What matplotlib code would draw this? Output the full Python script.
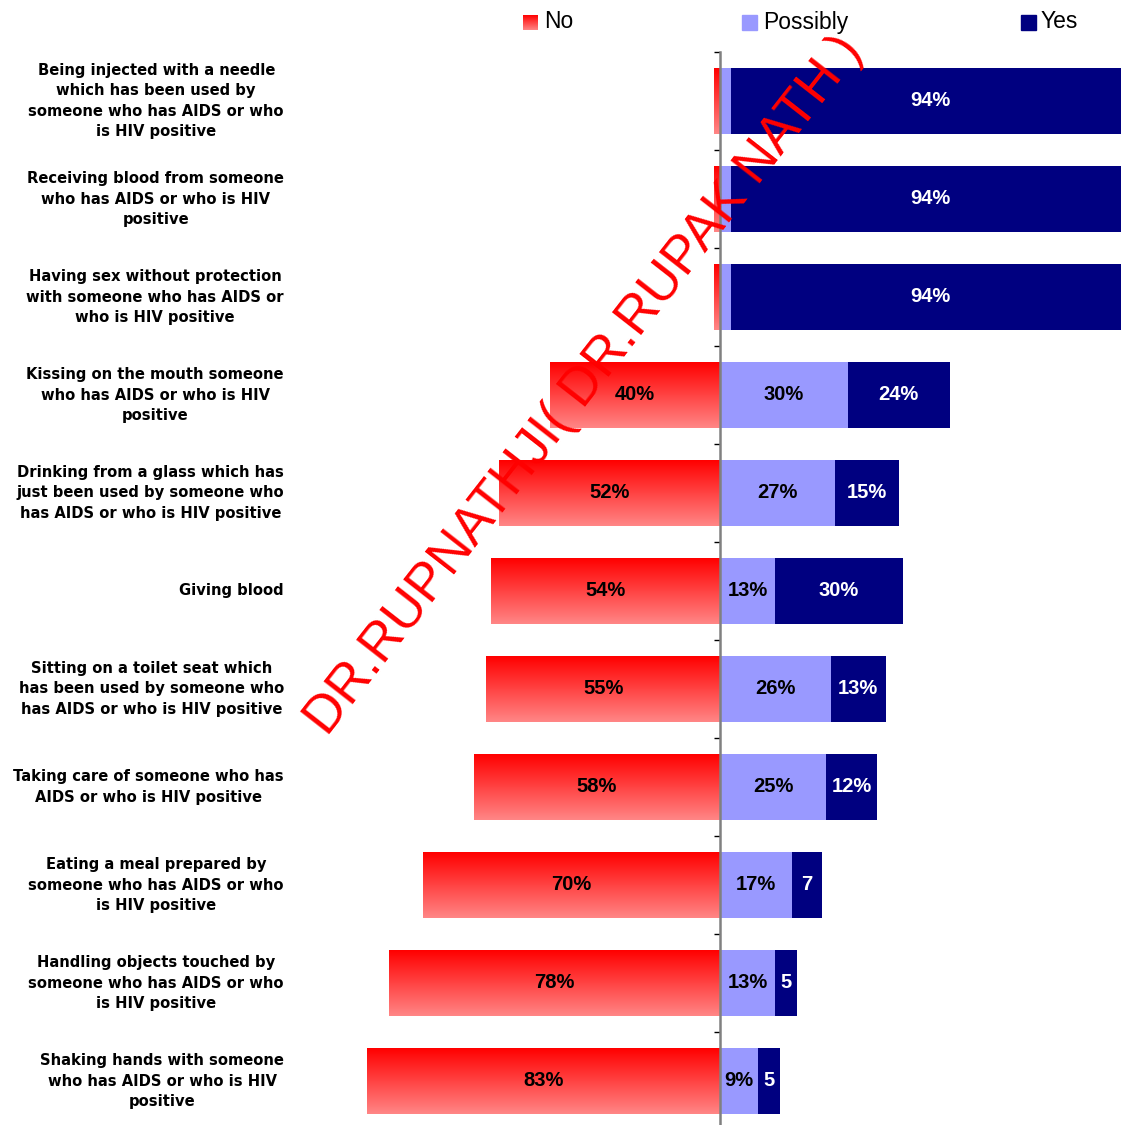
import numpy as np
import matplotlib
matplotlib.use("Agg")
import matplotlib.pyplot as plt
from matplotlib.colors import LinearSegmentedColormap
from matplotlib.transforms import blended_transform_factory

# survey answers, top row first
categories = [
    "Being injected with a needle\nwhich has been used by\nsomeone who has AIDS or who\nis HIV positive",
    "Receiving blood from someone\nwho has AIDS or who is HIV\npositive",
    "Having sex without protection\nwith someone who has AIDS or\nwho is HIV positive",
    "Kissing on the mouth someone\nwho has AIDS or who is HIV\npositive",
    "Drinking from a glass which has\njust been used by someone who\nhas AIDS or who is HIV positive",
    "Giving blood",
    "Sitting on a toilet seat which\nhas been used by someone who\nhas AIDS or who is HIV positive",
    "Taking care of someone who has\nAIDS or who is HIV positive",
    "Eating a meal prepared by\nsomeone who has AIDS or who\nis HIV positive",
    "Handling objects touched by\nsomeone who has AIDS or who\nis HIV positive",
    "Shaking hands with someone\nwho has AIDS or who is HIV\npositive",
]
no_vals = [1.5, 1.5, 1.5, 40, 52, 54, 55, 58, 70, 78, 83]
possibly_vals = [2.5, 2.5, 2.5, 30, 27, 13, 26, 25, 17, 13, 9]
yes_vals = [94, 94, 94, 24, 15, 30, 13, 12, 7, 5, 5]

W, H = 1121, 1125
PX_PER_PCT = 4.25
ZERO_X = 720

fig = plt.figure(figsize=(W / 100, H / 100), dpi=100)
top_px, bot_px = 52, 1130
ax = fig.add_axes([0, 1 - bot_px / H, 1, (bot_px - top_px) / H])

xlim = (-ZERO_X / PX_PER_PCT, (W - ZERO_X) / PX_PER_PCT)
ylim = (len(categories) - 0.5, -0.5)

red_cmap = LinearSegmentedColormap.from_list("nored", ["#ff0000", "#ff8686"])
grad = np.linspace(0, 1, 256).reshape(-1, 1)

y = np.arange(len(categories))
bar_h = 0.665

# "No" bars: vertical red gradient, drawn to the left of zero
for yi, v in zip(y, no_vals):
    ax.imshow(grad, cmap=red_cmap, aspect="auto", interpolation="bilinear",
              extent=(-v, 0, yi + bar_h / 2, yi - bar_h / 2), zorder=1)

ax.barh(y, possibly_vals, left=0, height=bar_h, color="#9999ff", zorder=1)
ax.barh(y, yes_vals, left=possibly_vals, height=bar_h, color="#000080", zorder=1)

ax.set_xlim(*xlim)
ax.set_ylim(*ylim)


def fmt(v):
    return f"{v:g}%" if v >= 8 else f"{v:g}"


lab_kw = dict(ha="center", va="center", fontsize=14.5, fontweight="bold",
              family="Liberation Sans", zorder=4)
for yi, n, p, ye in zip(y, no_vals, possibly_vals, yes_vals):
    if n >= 3:
        ax.text(-n / 2, yi, fmt(n), color="black", **lab_kw)
    if p >= 3:
        ax.text(p / 2, yi, fmt(p), color="black", **lab_kw)
    if ye >= 3:
        right = p + ye
        xc = (p + right) / 2
        if right > xlim[1]:
            xc = (p + xlim[1]) / 2 + 1
        ax.text(xc, yi, fmt(ye), color="white", **lab_kw)

# axis line at zero with small ticks between categories
for s in ["top", "right", "bottom"]:
    ax.spines[s].set_visible(False)
ax.spines["left"].set_position(("data", 0))
ax.spines["left"].set_color("#808080")
ax.spines["left"].set_linewidth(1.8)
ax.spines["left"].set_zorder(5)
ax.set_xticks([])
ax.set_yticks(np.arange(-0.5, len(categories), 1.0))
ax.set_yticklabels([])
ax.tick_params(axis="y", length=4, width=1, color="black", direction="out")
ax.patch.set_visible(False)

# category labels on the left
tr = blended_transform_factory(fig.transFigure, ax.transData)
for yi, c in zip(y, categories):
    ax.text(284 / W, yi, c, transform=tr, ha="right", va="center",
            multialignment="center", fontsize=10.6, fontweight="bold",
            family="DejaVu Sans", linespacing=1.42, color="black")

# legend across the top
leg_y = 1 - 22 / H
ax_no = fig.add_axes([523 / W, 1 - 30 / H, 15 / W, 15 / H])
ax_no.imshow(grad, cmap=red_cmap, aspect="auto")
ax_no.axis("off")
fig.patches.append(plt.Rectangle((742 / W, 1 - 30 / H), 15 / W, 15 / H,
                                 transform=fig.transFigure, color="#9999ff"))
fig.patches.append(plt.Rectangle((1021 / W, 1 - 30 / H), 15 / W, 15 / H,
                                 transform=fig.transFigure, color="#000080"))
for xpx, t in [(544, "No"), (763, "Possibly"), (1041, "Yes")]:
    fig.text(xpx / W, leg_y, t, ha="left", va="center", fontsize=16.5,
             family="Liberation Sans", color="black")

# watermark
fig.text(327 / W, 1 - 737 / H, "DR.RUPNATHJI( DR.RUPAK NATH )", color="red",
         fontsize=38, family="Liberation Sans", rotation=52,
         rotation_mode="anchor", ha="left", va="baseline", zorder=10)

fig.savefig("out.png", dpi=100)
